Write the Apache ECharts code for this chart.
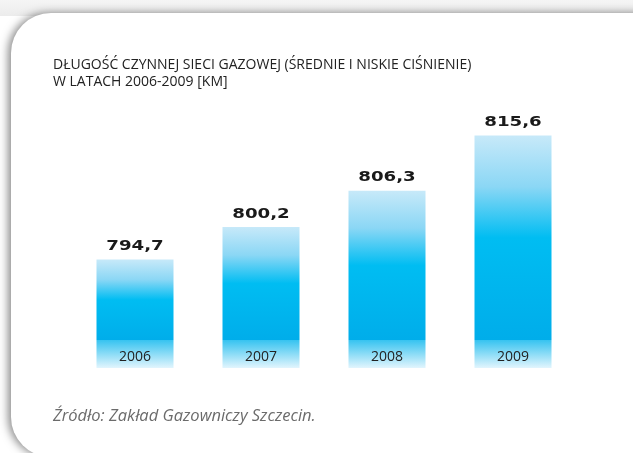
<!DOCTYPE html>
<html>
<head>
<meta charset="utf-8">
<script src="https://cdn.jsdelivr.net/npm/echarts@6/dist/echarts.min.js"></script>
<style>
  html, body { margin: 0; padding: 0; background: #fff; }
  #chart { width: 633px; height: 453px; }
</style>
</head>
<body>
<div id="chart"></div>
<script>
// dane: długość sieci gazowej [km]
var years = ['2006', '2007', '2008', '2009'];
var lengths = [794.7, 800.2, 806.3, 815.6];

var chartTitle = 'DŁUGOŚĆ CZYNNEJ SIECI GAZOWEJ (ŚREDNIE I NISKIE CIŚNIENIE)\nW LATACH 2006-2009 [KM]';
var sourceText = 'Źródło: Zakład Gazowniczy Szczecin.';

var Y_MIN = 776.4, Y_MAX = 821.6;
var BAR_W = 77, BAND_H = 28;

(function() {
    var chart = echarts.init(document.getElementById('chart'), null, { renderer: 'canvas' });

    var barColor = new echarts.graphic.LinearGradient(0, 0, 0, 1, [
        { offset: 0, color: '#c7e9f9' },
        { offset: 0.25, color: '#8bd7f5' },
        { offset: 0.5, color: '#00bdf2' },
        { offset: 1, color: '#00adea' }
    ]);
    var bandColor = new echarts.graphic.LinearGradient(0, 0, 0, 1, [
        { offset: 0, color: '#36c3f0' },
        { offset: 1, color: '#e2f5fd' }
    ]);

    // rysuje słupek + pasek z rokiem + etykietę wartości
    function renderBar(params, api) {
        var idx = api.value(0), val = api.value(1);
        var top = api.coord([idx, val]),
            base = api.coord([idx, Y_MIN]);
        var x = top[0] - BAR_W / 2;
        var bandTop = base[1] - BAND_H;
        return {
            type: 'group',
            children: [{
                type: 'rect',
                shape: { x: x, y: top[1], width: BAR_W, height: bandTop - top[1] },
                style: { fill: barColor }
            }, {
                type: 'rect',
                shape: { x: x, y: bandTop, width: BAR_W, height: BAND_H },
                style: { fill: bandColor }
            }, {
                type: 'text',
                x: top[0],
                y: bandTop + BAND_H / 2 + 3,
                style: {
                    text: years[idx],
                    align: 'center',
                    verticalAlign: 'middle',
                    fill: '#222',
                    font: '14px "Open Sans"'
                }
            }, {
                type: 'text',
                x: top[0],
                y: top[1] - 13,
                scaleX: 1.3,
                style: {
                    text: String(val).replace('.', ','),
                    align: 'center',
                    verticalAlign: 'middle',
                    fill: '#1a1a1a',
                    font: 'bold 14px "DejaVu Sans"'
                }
            }]
        };
    }

    var option = {
        backgroundColor: '#fff',
        animation: false,
        graphic: [{
            type: 'rect',
            z: -10,
            shape: { x: 0, y: 0, width: 633, height: 16 },
            style: {
                fill: new echarts.graphic.LinearGradient(0, 0, 0, 1, [
                    { offset: 0, color: '#f5f5f5' },
                    { offset: 1, color: '#ececec' }
                ])
            }
        }, {
            type: 'rect',
            z: -9,
            shape: { x: 11, y: 13, width: 700, height: 444, r: [40, 0, 0, 40] },
            style: {
                fill: '#fff',
                shadowBlur: 9,
                shadowOffsetX: -3,
                shadowOffsetY: 0,
                shadowColor: 'rgba(0,0,0,0.45)'
            }
        }],
        title: [{
            text: chartTitle,
            left: 48,
            top: 52,
            textStyle: {
                fontFamily: 'Open Sans',
                fontSize: 14,
                fontWeight: 'normal',
                color: '#222',
                lineHeight: 17
            }
        }, {
            text: sourceText,
            left: 48,
            top: 403,
            textStyle: {
                fontFamily: 'Open Sans',
                fontStyle: 'italic',
                fontSize: 16.5,
                fontWeight: 'normal',
                color: '#6b6b6b'
            }
        }],
        grid: { left: 72, right: 57, top: 100, bottom: 85 },
        xAxis: { type: 'category', data: years, show: false },
        yAxis: { type: 'value', min: Y_MIN, max: Y_MAX, show: false },
        series: [{
            type: 'custom',
            renderItem: renderBar,
            encode: { x: 0, y: 1 },
            data: lengths.map(function(v, i) { return [i, v]; })
        }]
    };
    chart.setOption(option);
})();
</script>
</body>
</html>
